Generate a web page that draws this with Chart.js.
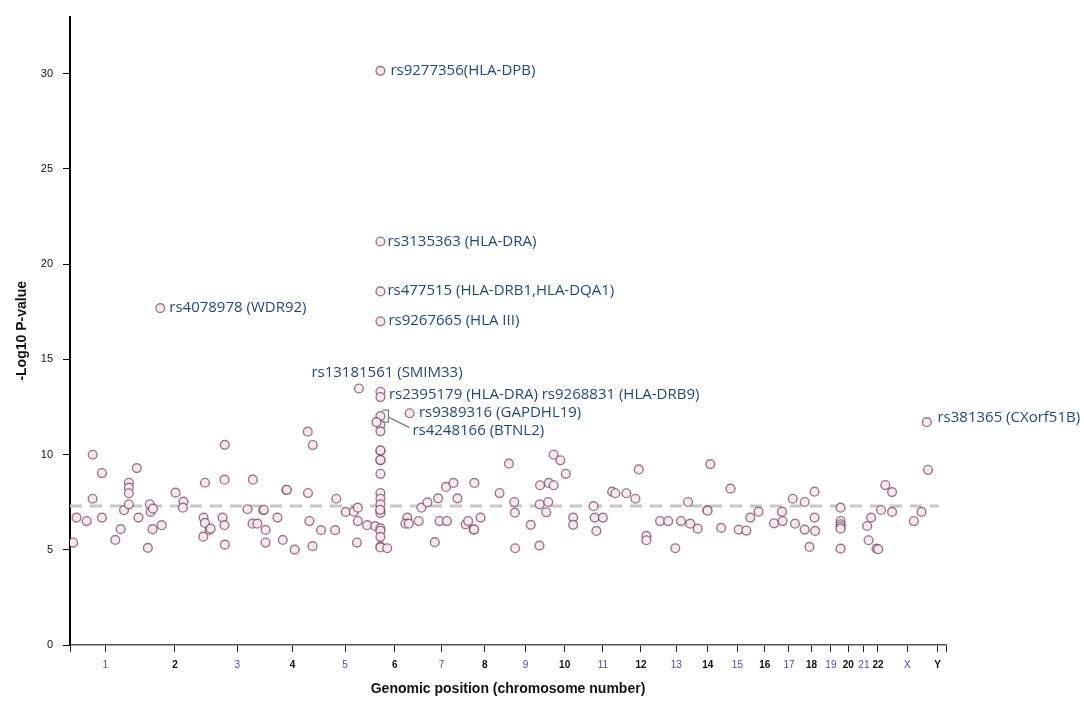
<!DOCTYPE html>
<html>
<head>
<meta charset="utf-8">
<script src="https://cdn.jsdelivr.net/npm/chart.js@4.4.1/dist/chart.umd.min.js"></script>
<style>
  html, body { margin: 0; padding: 0; background: #fff; }
  #wrap { width: 1084px; height: 716px; }
</style>
</head>
<body>
<div id="wrap"><canvas id="manhattan"></canvas></div>
<script>
// chromosomes along the x axis and their lengths (Mb, hg19)
const chromosomes = ['1', '2', '3', '4', '5', '6', '7', '8', '9', '10', '11', '12',
    '13', '14', '15', '16', '17', '18', '19', '20', '21', '22', 'X', 'Y'];
const chromLengthsMb = [249.25, 243.2, 198.0, 191.15, 180.9, 171.1, 159.1, 146.4, 141.2,
    135.5, 135.0, 133.85, 115.2, 107.35, 102.5, 90.35, 81.2, 78.1, 59.1, 63.0, 48.1, 51.3,
    155.3, 59.4];

// SNPs: cumulative genomic position (Mb) and -log10 P
const snpPositionMb = [
    11, 23, 59, 80, 80, 113, 113, 160, 179, 191, 208, 208, 208, 208, 236, 242, 275, 282, 285, 293,
    292, 319, 324, 373, 401, 399, 471, 472, 477, 477, 493, 497, 539, 547, 546, 546, 547, 627, 645, 646,
    662, 683, 685, 691, 691, 733, 752, 765, 766, 794, 840, 858, 841, 846, 857, 887, 941, 937, 974, 1003,
    1017, 1017, 1014, 1021, 1050, 1079,
    1097, 1097, 1097, 1097, 1097, 1097, 1097, 1097, 1097, 1097, 1097, 1097, 1097, 1097, 1097, 1097,
    1097, 1097, 1097, 1097, 1097, 1097, 1097, 1097,
    1083, 1096, 1121, 1200, 1192, 1185, 1197, 1232, 1242, 1263, 1301, 1289, 1306, 1332, 1329, 1355,
    1369, 1398, 1407, 1427, 1428, 1429, 1451, 1518, 1551, 1570, 1572, 1573, 1628, 1659, 1660, 1661,
    1683, 1690, 1692, 1709, 1709, 1733, 1752, 1778, 1778, 1850, 1854, 1860, 1883, 1916, 1927, 1966,
    1998, 2010, 2037, 2037, 2085, 2114, 2139, 2159, 2184, 2192, 2218, 2252, 2253, 2263, 2301, 2334,
    2363, 2390, 2404, 2433, 2488, 2516, 2518, 2554, 2562, 2596, 2596, 2613, 2631, 2631, 2633,
    2723, 2723, 2723, 2723, 2723, 2723, 2817, 2822, 2831, 2850, 2856, 2866, 2881, 2905, 2905,
    2982, 3009, 3032, 3028
];
const snpLog10P = [
    5.38, 6.69, 6.51, 9.99, 7.68, 9.03, 6.69, 5.52, 6.08, 7.08, 8.52, 8.26, 7.97, 7.39, 9.29, 6.69, 5.10, 7.39, 6.99, 7.16,
    6.08, 17.69, 6.29, 8.00, 7.53, 7.21, 5.69, 6.69, 8.52, 6.41, 6.04, 6.11, 6.69, 10.51, 8.68, 6.29, 5.27, 7.13, 6.37, 8.68,
    6.37, 7.08, 7.10, 6.04, 5.38, 6.69, 5.52, 8.14, 8.15, 5.01, 11.20, 10.50, 7.98, 6.51, 5.19, 6.03, 7.68, 6.03, 6.99, 7.00,
    7.21, 6.51, 5.38, 13.47, 6.29, 6.24,
    30.15, 21.19, 18.57, 17.00, 13.30, 13.02, 12.02, 11.55, 11.22, 10.20, 10.22, 9.70, 9.72, 8.99, 7.98, 7.68,
    7.39, 7.06, 6.93, 6.12, 6.00, 5.68, 5.18, 5.12,
    11.70, 7.10, 5.08, 12.17, 6.69, 6.37, 6.37, 6.51, 7.21, 7.49, 7.70, 5.40, 6.51, 6.51, 8.30, 8.51,
    7.70, 6.34, 6.51, 6.06, 6.07, 8.51, 6.69, 7.98, 9.52, 7.51, 6.95, 5.08, 6.31, 5.22, 7.39, 8.39,
    6.97, 7.51, 8.51, 8.39, 9.99, 9.70, 8.99, 6.69, 6.31, 7.29, 6.69, 5.99, 6.69, 8.05, 7.97, 7.97,
    7.68, 9.22, 5.73, 5.50, 6.51, 6.51, 5.08, 6.51, 7.51, 6.37, 6.11, 7.09, 7.05, 9.50, 6.15, 8.21,
    6.06, 6.01, 6.69, 7.00, 6.39, 7.00, 6.51, 7.68, 6.37, 7.51, 6.06, 5.15, 8.05, 6.69, 5.99,
    7.21, 6.51, 6.34, 6.22, 6.11, 5.06, 6.25, 5.50, 6.69, 5.06, 5.03, 7.09, 8.40, 8.03, 6.99,
    6.51, 6.99, 9.20, 11.70
];

// genome-wide significance line (-log10 5e-8)
const thresholdLog10P = 7.3;
const thresholdSpanMb = [0, 3070];

// labelled SNPs: text and the SNP it points at
const annotationText = [
    'rs9277356(HLA-DPB)', 'rs3135363 (HLA-DRA)', 'rs477515 (HLA-DRB1,HLA-DQA1)',
    'rs9267665 (HLA III)', 'rs4078978 (WDR92)', 'rs13181561 (SMIM33)',
    'rs2395179 (HLA-DRA) rs9268831 (HLA-DRB9)', 'rs9389316 (GAPDHL19)',
    'rs4248166 (BTNL2)', 'rs381365 (CXorf51B)'
];
const annotationX = [1097, 1097, 1097, 1097, 319, 1021, 1097, 1200, 1097, 3028];
const annotationY = [30.15, 21.19, 18.57, 17.00, 17.69, 13.47, 13.30, 12.17, 12.02, 11.70];

// pixel offsets of each label from its point (style only)
const labelOffsets = [[10, 0], [7, 0], [7, -1], [8, -1], [9, 0], [-47.5, -15.6],
    [8.5, 2.6], [9.3, -0.6], [32, 14.7], [10.6, -4]];

// tick positions at chromosome centres
const totalMb = chromLengthsMb.reduce((a, b) => a + b, 0);
const chromCentres = [];
let offset = 0;
chromLengthsMb.forEach(len => {
    chromCentres.push(offset + len / 2);
    offset += len;
});
const xTickValues = [0, ...chromCentres, totalMb];

const snpPoints = snpPositionMb.map((x, i) => ({ x: x, y: snpLog10P[i] }));

const annotationPlugin = {
    id: 'snpLabels',
    afterDatasetsDraw(chart) {
        const { ctx, scales } = chart;
        const xs = scales.x, ys = scales.y;
        ctx.save();
        ctx.font = '15px "Open Sans"';
        ctx.fillStyle = '#1f4a78';
        ctx.textBaseline = 'middle';
        ctx.textAlign = 'left';
        annotationText.forEach((txt, i) => {
            const px = xs.getPixelForValue(annotationX[i]);
            const py = ys.getPixelForValue(annotationY[i]);
            ctx.fillText(txt, px + labelOffsets[i][0], py + labelOffsets[i][1]);
        });

        // bracket and leader line for rs4248166 (BTNL2)
        const bx = xs.getPixelForValue(annotationX[8]);
        const by = ys.getPixelForValue(annotationY[8]);
        ctx.strokeStyle = '#7a7a7a';
        ctx.lineWidth = 1.2;
        ctx.beginPath();
        ctx.moveTo(bx + 2, by - 6);
        ctx.lineTo(bx + 8, by - 6);
        ctx.lineTo(bx + 8, by + 6);
        ctx.lineTo(bx + 2, by + 6);
        ctx.moveTo(bx + 8, by + 1);
        ctx.lineTo(bx + 29, by + 11.5);
        ctx.stroke();
        ctx.restore();
    }
};

const ctx = document.getElementById('manhattan').getContext('2d');
new Chart(ctx, {
    type: 'scatter',
    data: {
        datasets: [{
            label: 'SNPs',
            data: snpPoints,
            pointRadius: 4.4,
            pointHoverRadius: 4.4,
            pointBackgroundColor: '#fce6f0',
            pointBorderColor: 'rgba(105, 70, 92, 0.7)',
            pointBorderWidth: 1.4
        }, {
            type: 'line',
            label: 'Threshold',
            data: thresholdSpanMb.map(x => ({ x: x, y: thresholdLog10P })),
            borderColor: '#c6c6c6',
            borderWidth: 3,
            borderDash: [12, 8],
            pointRadius: 0,
            fill: false
        }]
    },
    options: {
        responsive: true,
        maintainAspectRatio: false,
        animation: false,
        layout: {
            padding: { left: 10, right: 138, top: 12, bottom: 14 }
        },
        scales: {
            x: {
                type: 'linear',
                min: 0,
                max: totalMb,
                afterBuildTicks: function(scale) {
                    scale.ticks = xTickValues.map(v => ({ value: v }));
                },
                afterFit: function(scale) {
                    scale.height = 57;
                },
                grid: {
                    drawOnChartArea: false,
                    drawTicks: true,
                    tickLength: 7,
                    color: '#222'
                },
                border: { color: '#555', width: 1.5 },
                ticks: {
                    autoSkip: false,
                    maxRotation: 0,
                    padding: 7,
                    color: function(c) {
                        return c.index % 2 === 1 ? '#4a4aae' : '#111';
                    },
                    font: function(c) {
                        return {
                            family: 'Liberation Sans',
                            size: 10,
                            weight: c.index % 2 === 1 ? 'normal' : 'bold'
                        };
                    },
                    callback: function(value, index) {
                        return index >= 1 && index <= chromosomes.length ? chromosomes[index - 1] : '';
                    }
                },
                title: {
                    display: true,
                    text: 'Genomic position (chromosome number)',
                    color: '#111',
                    font: { family: 'Liberation Sans', size: 14, weight: 'bold' }
                }
            },
            y: {
                min: 0,
                max: 33,
                afterFit: function(scale) {
                    scale.width = 60;
                },
                grid: {
                    drawOnChartArea: false,
                    drawTicks: true,
                    tickLength: 7,
                    color: '#000'
                },
                border: { color: '#000', width: 2 },
                ticks: {
                    stepSize: 5,
                    includeBounds: false,
                    padding: 10,
                    color: '#111',
                    font: { family: 'Liberation Sans', size: 11 }
                },
                title: {
                    display: true,
                    text: '-Log10 P-value',
                    color: '#111',
                    font: { family: 'Liberation Sans', size: 14, weight: 'bold' }
                }
            }
        },
        plugins: {
            legend: { display: false },
            tooltip: { enabled: false }
        }
    },
    plugins: [annotationPlugin]
});
</script>
</body>
</html>
